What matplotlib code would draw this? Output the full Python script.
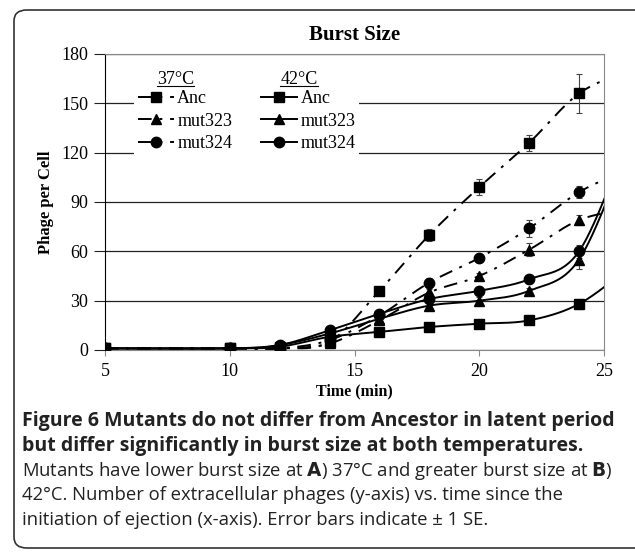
import numpy as np
import matplotlib
matplotlib.use('Agg')
import matplotlib.pyplot as plt
from matplotlib.lines import Line2D
from matplotlib.patches import FancyBboxPatch

# time points (min); the last one lies past the axis end so the curves run to the edge
t = [5, 10, 12, 14, 16, 18, 20, 22, 24, 26]

# 37 C
anc_37 = [1, 1, 1, 5, 36, 70, 99, 126, 156, 170]
mut323_37 = [1, 1, 1, 4, 18, 35, 45, 61, 79, 86]
mut324_37 = [1, 1, 1, 6, 21, 41, 56, 74, 96, 110]
anc_37_se = [0.5, 0.5, 0.5, 1, 1.5, 3.5, 5, 5, 12, 0]
mut323_37_se = [0.5, 0.5, 0.5, 1, 1, 2, 2, 4, 3, 0]
mut324_37_se = [0.5, 0.5, 0.5, 1, 1.5, 3, 2, 5, 3.5, 0]

# 42 C
anc_42 = [1, 1, 2, 8, 11, 14, 16, 18, 28, 50]
mut323_42 = [1, 1, 3, 10, 19, 27, 30, 36, 55, 125]
mut324_42 = [1, 1, 3, 12, 22, 31, 36, 43, 60, 130]
anc_42_se = [0.5, 0.5, 0.5, 1, 1, 1, 1.5, 1.5, 3, 0]
mut323_42_se = [0.5, 0.5, 0.5, 1, 1.5, 2, 2, 2, 6, 0]
mut324_42_se = [0.5, 0.5, 0.5, 1.5, 2, 2, 2, 2, 4, 0]

y_ticks = [0, 30, 60, 90, 120, 150, 180]
x_ticks = [5, 10, 15, 20, 25]

caption_bold = ["Figure 6 Mutants do not differ from Ancestor in latent period",
                "but differ significantly in burst size at both temperatures."]
caption_lines = [r"Mutants have lower burst size at $\mathbf{A}$) 37°C and greater burst size at $\mathbf{B}$)",
                 "42°C. Number of extracellular phages (y-axis) vs. time since the",
                 "initiation of ejection (x-axis). Error bars indicate ± 1 SE."]

DASHDOT = (0, (7, 4, 1.5, 4))
SERIF = 'Liberation Serif'


def smooth(x, y, n=30):
    # excel-like smoothed line (catmull-rom as bezier segments)
    p = np.column_stack([x, y]).astype(float)
    p = np.vstack([p[0], p, p[-1]])
    s = np.linspace(0, 1, n)
    out = []
    for i in range(1, len(p) - 2):
        p0, p1, p2, p3 = p[i - 1], p[i], p[i + 1], p[i + 2]
        c1 = p1 + (p2 - p0) / 6
        c2 = p2 - (p3 - p1) / 6
        seg = ((1 - s) ** 3)[:, None] * p1 + (3 * (1 - s) ** 2 * s)[:, None] * c1 \
            + (3 * (1 - s) * s ** 2)[:, None] * c2 + (s ** 3)[:, None] * p2
        out.append(seg)
    out = np.vstack(out)
    return out[:, 0], out[:, 1]


fig = plt.figure(figsize=(6.35, 5.55), dpi=100)
ax = fig.add_axes([105 / 635, 1 - 350 / 555, 499 / 635, 296 / 555])

series = [
    (anc_37, anc_37_se, 's', DASHDOT, 7),
    (mut323_37, mut323_37_se, '^', DASHDOT, 7.5),
    (mut324_37, mut324_37_se, 'o', DASHDOT, 7.5),
    (anc_42, anc_42_se, 's', '-', 7),
    (mut323_42, mut323_42_se, '^', '-', 7.5),
    (mut324_42, mut324_42_se, 'o', '-', 7.5),
]
handles = []
for vals, se, mk, ls, ms in series:
    xs, ys = smooth(t, vals)
    ax.plot(xs, ys, color='black', linestyle=ls, lw=1.4, zorder=3)
    ax.errorbar(t, vals, yerr=se, fmt=mk, color='black', ms=ms, ecolor='#444444',
                elinewidth=0.8, capsize=2.5, capthick=0.8, zorder=4)
    handles.append(Line2D([], [], color='black', linestyle=ls, lw=1.4, marker=mk, ms=ms))

ax.set_xlim(5, 25)
ax.set_ylim(0, 180)
ax.set_xticks(x_ticks)
ax.set_yticks(y_ticks)
ax.yaxis.grid(True, color='#222222', lw=0.9)
ax.set_axisbelow(True)
for side in ['top', 'right', 'bottom']:
    ax.spines[side].set_color('#888888')
ax.spines['left'].set_color('black')
ax.tick_params(axis='x', direction='out', length=4, color='#888888', labelsize=13, pad=5)
ax.tick_params(axis='y', direction='out', length=8, color='#222222', labelsize=13, pad=4)
for lab in ax.get_xticklabels() + ax.get_yticklabels():
    lab.set_fontfamily(SERIF)

ax.set_title('Burst Size', fontfamily=SERIF, fontweight='bold', fontsize=15, pad=10)
ax.set_xlabel('Time (min)', fontfamily=SERIF, fontweight='bold', fontsize=11.5, labelpad=3)
ax.set_ylabel('Phage per Cell', fontfamily=SERIF, fontweight='bold', fontsize=12, labelpad=5)

labels = ['Anc', 'mut323', 'mut324'] * 2
leg = ax.legend(handles, labels, ncol=2, loc='upper left', bbox_to_anchor=(0.058, 0.89),
                borderaxespad=0, frameon=True, fancybox=False, edgecolor='none',
                framealpha=1, handlelength=2.0, handletextpad=0.2, columnspacing=1.6,
                labelspacing=0.3, borderpad=0.2,
                prop={'family': SERIF, 'size': 13})
leg.set_zorder(5)

# column headers, underlined
fig.canvas.draw()
r = fig.canvas.get_renderer()
inv = ax.transAxes.inverted()
texts = leg.get_texts()
for txt, head in [(texts[0], '37°C'), (texts[3], '42°C')]:
    bb = txt.get_window_extent(r)
    cx = bb.x0 - 2
    cy = bb.y1 + 2
    ht = ax.text(*inv.transform((cx, cy)), head, transform=ax.transAxes, ha='center',
                 va='bottom', fontfamily=SERIF, fontsize=13, zorder=6)
    hb = ht.get_window_extent(r)
    (x0, y0), (x1, _) = inv.transform([(hb.x0, hb.y0 + 2), (hb.x1, hb.y0 + 2)])
    ax.add_line(Line2D([x0, x1], [y0, y0], transform=ax.transAxes, color='black', lw=0.8, zorder=6))

# caption
y = 1 - 421 / 555
for line in caption_bold:
    fig.text(22 / 635, y, line, fontfamily='Open Sans', fontweight='bold', fontsize=14,
             va='center', color='#222222')
    y -= 25 / 555
for line in caption_lines:
    fig.text(22 / 635, y, line, fontfamily='Open Sans', fontsize=13.35, va='center', color='#222222')
    y -= 24.5 / 555

box = FancyBboxPatch((14 / 635, 1 - 548 / 555), 640 / 635, 538 / 555,
                     boxstyle='round,pad=0,rounding_size=0.02', transform=fig.transFigure,
                     facecolor='none', edgecolor='#333333', lw=1.2)
fig.add_artist(box)

fig.savefig('out.png', dpi=100)
